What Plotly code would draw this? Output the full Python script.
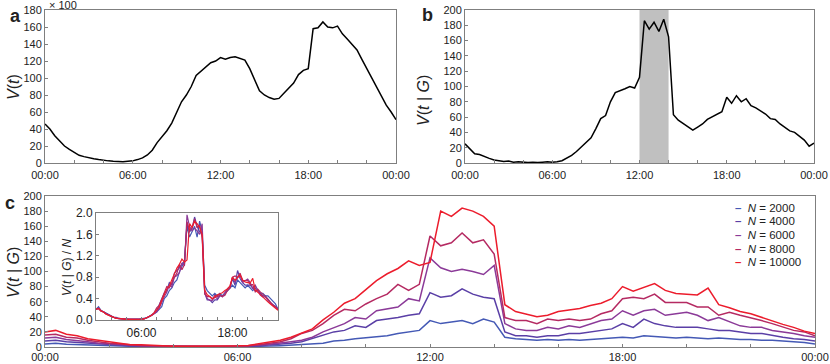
import plotly.graph_objects as go

# time grid: every 20 minutes from 00:00 to 24:00 (hours)
hours = [i / 3 for i in range(73)]

tick_hours = [0, 6, 12, 18, 24]
tick_labels = ["00:00", "06:00", "12:00", "18:00", "00:00"]
inset_tick_hours = [6, 18]
inset_tick_labels = ["06:00", "18:00"]

# panel a: V(t), units of 100
v_total = [
    46, 40, 32, 26, 20, 16, 12, 9, 7.5, 6, 5, 4, 3, 2.5, 2, 1.5, 1.5, 2,
    2.5, 4, 6, 9.5, 15, 24, 31, 38, 47, 60, 72, 80, 90, 103, 108, 114, 118, 120,
    124, 122, 124, 125, 123, 121, 111, 97, 85, 80, 77, 75, 76, 82, 88, 94, 104, 109,
    111, 158, 159, 166, 160, 159, 161, 152, 146, 139, 133, 122, 111, 100, 89, 78, 68, 60,
    51,
]

# panel b: V(t | G)
v_group = [
    25, 19, 12, 11, 8, 6, 4, 3, 2, 2.5, 1, 1.5, 1, 0.5, 1, 0.5, 1, 1.5,
    1, 1.5, 3, 6, 10, 15, 21, 27, 33, 45, 58, 62, 80, 92, 94, 97, 100, 98,
    112, 186, 175, 184, 172, 188, 165, 63, 56, 52, 47, 43, 47, 51, 57, 60, 63, 67,
    86, 78, 88, 80, 84, 75, 72, 68, 64, 58, 57, 51, 47, 42, 40, 35, 30, 22,
    26,
]
highlight = (12, 14)

# panel c: V(t | G) for different group sizes N
group_sizes = [2000, 4000, 6000, 8000, 10000]
colors = ["#4459b5", "#5a3fa6", "#8b3a98", "#b52a62", "#ec1c2c"]

v_n2000 = [
    4, 5, 3.5, 3, 2.5, 2, 1.5, 1, 1, 0.5, 0.5, 0.3, 0.3, 0.2, 0.3, 0.2, 0.3, 0.3,
    0.4, 0.5, 0.8, 1.2, 1.8, 2.5, 3, 4, 5, 8, 9, 11, 12, 14, 15, 18, 20, 22,
    35, 31, 33, 35, 31, 37, 33, 13, 11, 10, 9, 10, 9, 10, 9, 10, 11, 12,
    13, 12, 15, 14, 13, 12, 13, 12, 11, 12, 11, 10, 10, 9, 9, 8, 7, 6,
    4,
]
v_n4000 = [
    8, 9, 7, 6, 4.5, 3.5, 2.5, 2, 1.5, 1, 1, 0.8, 0.5, 0.5, 0.5, 0.3, 0.5, 0.5,
    0.6, 0.8, 1.5, 2.5, 3.5, 5, 7, 11, 15, 20, 22, 28, 26, 35, 37, 39, 42, 44,
    72, 66, 68, 77, 70, 66, 64, 20, 15, 15, 13, 15, 15, 18, 18, 20, 22, 24,
    31, 26, 37, 31, 28, 26, 26, 26, 24, 22, 22, 20, 18, 18, 15, 13, 11, 10,
    8,
]
v_n6000 = [
    12, 13, 10, 9, 7, 5, 4, 3, 2, 1.5, 1.2, 1, 0.8, 0.6, 0.6, 0.4, 0.6, 0.6,
    0.8, 1.2, 2.5, 3.5, 5, 7, 9, 13, 20, 26, 31, 39, 37, 48, 50, 53, 64, 61,
    118, 105, 100, 103, 100, 96, 108, 31, 24, 22, 22, 26, 24, 28, 26, 31, 35, 37,
    48, 42, 48, 50, 42, 44, 46, 42, 35, 39, 33, 28, 26, 26, 22, 20, 18, 15,
    13,
]
v_n8000 = [
    16, 17, 13, 12, 9, 7, 5, 4, 2.5, 2, 1.5, 1.2, 1, 0.8, 0.8, 0.5, 0.8, 0.8,
    1, 1.5, 3, 5, 7, 11, 18, 22, 31, 42, 50, 48, 57, 64, 70, 83, 75, 83,
    147, 134, 138, 151, 138, 142, 123, 39, 35, 35, 31, 37, 35, 37, 35, 37, 44, 48,
    64, 66, 64, 70, 59, 59, 59, 53, 53, 42, 46, 42, 39, 35, 31, 26, 22, 20,
    15,
]
v_n10000 = [
    20, 22, 17, 15, 11, 9, 6, 5, 3, 3, 2, 1.5, 1, 1, 1, 0.5, 1, 1,
    1.5, 2, 4, 6, 9, 13, 18, 24, 36, 46, 58, 64, 76, 88, 97, 104, 114, 108,
    112, 180, 173, 184, 180, 173, 160, 56, 47, 44, 40, 42, 47, 49, 51, 55, 58, 64,
    80, 74, 79, 84, 75, 71, 70, 69, 78, 56, 52, 47, 44, 39, 34, 30, 26, 21,
    18,
]
v_by_n = [v_n2000, v_n4000, v_n6000, v_n8000, v_n10000]

W, H = 830, 364
font = "Liberation Sans, Arial, Helvetica, sans-serif"
frame = "#7f7f7f"


def px_x(x):
    return x / W


def px_y(y):
    return 1 - y / H


fig = go.Figure()

fig.add_trace(go.Scatter(x=hours, y=v_total, mode="lines",
                         line=dict(color="black", width=1.5),
                         xaxis="x", yaxis="y", showlegend=False))

fig.add_trace(go.Scatter(x=hours, y=v_group, mode="lines",
                         line=dict(color="black", width=1.5),
                         xaxis="x2", yaxis="y2", showlegend=False))
fig.add_shape(type="rect", x0=highlight[0], x1=highlight[1], xref="x2",
              yref="y2 domain", y0=0, y1=1, fillcolor="#c0c0c0",
              line_width=0, layer="below")

for n, vals, col in zip(group_sizes, v_by_n, colors):
    fig.add_trace(go.Scatter(x=hours, y=vals, mode="lines",
                             line=dict(color=col, width=1.5),
                             xaxis="x3", yaxis="y3", showlegend=False))

# inset: V(t | G) / N  (V in units of 100)
for n, vals, col in zip(group_sizes, v_by_n, colors):
    fig.add_trace(go.Scatter(x=hours, y=[v * 100 / n for v in vals], mode="lines",
                             line=dict(color=col, width=1.2),
                             xaxis="x4", yaxis="y4", showlegend=False))

axis_style = dict(showline=True, mirror=True, linecolor=frame, linewidth=1,
                  ticks="inside", ticklen=3, tickcolor=frame, showgrid=False,
                  zeroline=False, automargin=False)
minor = dict(dtick=2, tick0=0, ticks="inside", ticklen=3, tickcolor=frame)


def xaxis(domain, anchor, tv=tick_hours, tt=tick_labels, size=11, standoff=2):
    return dict(axis_style, domain=domain, anchor=anchor, range=[0, 24],
                tickmode="array", tickvals=tv, ticktext=tt, minor=minor,
                ticklabelstandoff=standoff, tickfont=dict(size=size, color="#222"))


def yaxis(domain, anchor, top, dtick, fmt=None, size=11):
    d = dict(axis_style, domain=domain, anchor=anchor, range=[0, top],
             tickmode="linear", tick0=0, dtick=dtick,
             tickfont=dict(size=size, color="#222"))
    if fmt:
        d["tickformat"] = fmt
    return d


fig.update_layout(
    width=W, height=H, autosize=False,
    margin=dict(l=0, r=0, t=0, b=0),
    paper_bgcolor="white", plot_bgcolor="white",
    font=dict(family=font, color="#222"),
    xaxis=xaxis([px_x(45), px_x(396)], "y"),
    yaxis=yaxis([px_y(163), px_y(10)], "x", 180, 20),
    xaxis2=xaxis([px_x(465), px_x(814)], "y2"),
    yaxis2=yaxis([px_y(163), px_y(10)], "x2", 200, 20),
    xaxis3=xaxis([px_x(45), px_x(815)], "y3", standoff=0),
    yaxis3=yaxis([px_y(347), px_y(196)], "x3", 200, 20),
    xaxis4=xaxis([px_x(96), px_x(278)], "y4", inset_tick_hours, inset_tick_labels, 12),
    yaxis4=yaxis([px_y(320), px_y(213)], "x4", 2, 0.4, ".1f", 12),
)

annotations = [
    dict(text="<b>a</b>", x=px_x(8), y=px_y(16), xanchor="left", font=dict(size=18)),
    dict(text="<b>b</b>", x=px_x(420), y=px_y(15), xanchor="left", font=dict(size=18)),
    dict(text="<b>c</b>", x=px_x(3), y=px_y(203), xanchor="left", font=dict(size=18)),
    dict(text="× 100", x=px_x(47), y=px_y(5), xanchor="left", font=dict(size=11)),
    dict(text="<i>V</i>(<i>t</i>)", x=px_x(13), y=px_y(87), textangle=-90,
         font=dict(size=16)),
    dict(text="<i>V</i>(<i>t</i> | <i>G</i>)", x=px_x(423), y=px_y(100), textangle=-90,
         font=dict(size=16)),
    dict(text="<i>V</i>(<i>t</i> | <i>G</i>)", x=px_x(13), y=px_y(273), textangle=-90,
         font=dict(size=16)),
    dict(text="<i>V</i>(<i>t</i> | <i>G</i>) / <i>N</i>", x=px_x(67), y=px_y(267),
         textangle=-90, font=dict(size=12)),
]
legend_rows = [208, 221.5, 235, 248.5, 262]
for n, col, row in zip(group_sizes, colors, legend_rows):
    annotations.append(dict(
        text=f"<span style='color:{col}'><b>–</b></span>  <i>N</i> = {n}",
        x=px_x(733), y=px_y(row), xanchor="left", font=dict(size=11.5)))

for a in annotations:
    a.update(xref="paper", yref="paper", showarrow=False)
    a.setdefault("xanchor", "center")
    a.setdefault("yanchor", "middle")
fig.update_layout(annotations=annotations)

# drop the default page margin so the figure sits at the window's corner
fig.write_html("out.html", config={"displayModeBar": False},
               post_script="document.body.style.margin = '0';")
